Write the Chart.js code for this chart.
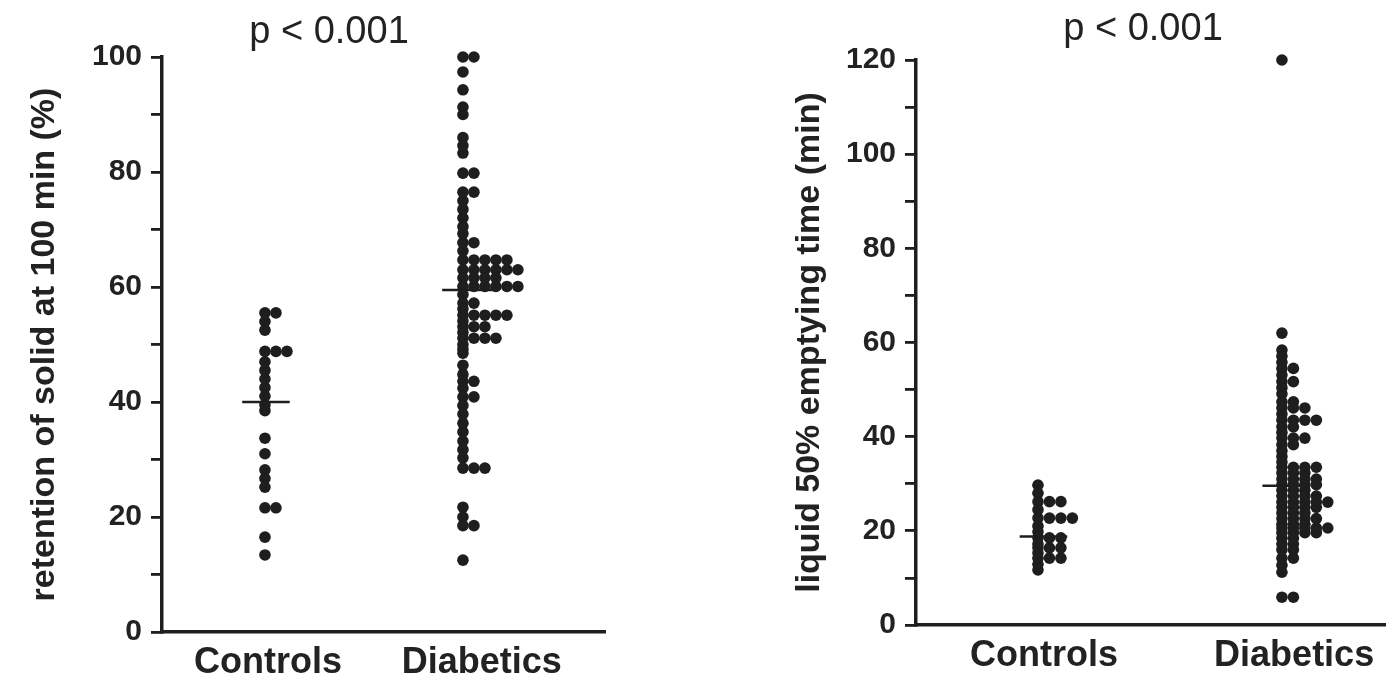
<!DOCTYPE html>
<html><head><meta charset="utf-8">
<script src="https://cdn.jsdelivr.net/npm/chart.js@4.4.1/dist/chart.umd.min.js"></script>
<style>
html,body{margin:0;padding:0;background:#fff;width:1391px;height:681px;overflow:hidden;}
#cl{position:absolute;left:0;top:0;}
#cr{position:absolute;left:695px;top:0;}
.pt{position:absolute;font-family:"Liberation Sans",Arial,sans-serif;font-size:38px;line-height:38px;color:#222;white-space:nowrap;transform:translateX(-50%);}
</style></head><body>
<canvas id="cl" width="695" height="681"></canvas>
<canvas id="cr" width="696" height="681"></canvas>
<div class="pt" style="left:329px;top:11px">p &lt; 0.001</div>
<div class="pt" style="left:1143px;top:8px">p &lt; 0.001</div>
<script>
// ---------- data ----------
const groups = ['Controls', 'Diabetics'];
const pTitle = 'p < 0.001';

const solidTitle = 'retention of solid at 100 min (%)';
const solidTicks = [0, 20, 40, 60, 80, 100];
const solidControls = [55.5, 55.5, 54, 52.5, 48.8, 48.8, 48.8, 47, 45.5, 44, 42.5, 41, 39.5, 38.5,
  33.7, 31, 28.2, 26.7, 25.2, 21.6, 21.6, 16.5, 13.4];
const solidDiabetics = [100, 100, 97.4, 94.3, 91.3, 90, 86, 84.6, 83.3, 79.8, 79.8, 76.5, 76.5, 75, 73.5, 72, 70.5, 69.3, 67.7, 67.7, 66.3,
  64.7, 64.7, 64.7, 64.7, 64.7, 63, 63, 63, 63, 63, 63, 61.6, 61.6, 61.6, 61.6,
  60.1, 60.1, 60.1, 60.1, 60.1, 60.1, 58.7, 57.2, 57.2, 56.2, 55.1, 55.1, 55.1, 55.1, 55.1, 54.1,
  53.1, 53.1, 53.1, 52.1, 51.1, 51.1, 51.1, 51.1, 50, 49.2, 48.5,
  46.4, 44.8, 43.6, 43.6, 42.4, 40.9, 40.9, 39.4, 37.9, 36.3, 34.8, 33.2, 31.7, 30.3, 28.5, 28.5, 28.5,
  21.7, 20, 18.5, 18.5, 12.5];
const solidMeans = [40, 59.5];

const liquidTitle = 'liquid 50% emptying time (min)';
const liquidTicks = [0, 20, 40, 60, 80, 100, 120];
const liquidControls = [29.7, 28, 26.2, 26.2, 26.2, 24.5, 22.7, 22.7, 22.7, 22.7, 21, 19.8, 18.5, 18.5, 18.5,
  17.2, 16.4, 16.4, 16.4, 15.3, 14.2, 14.2, 14.2, 12.9, 11.7];
const liquidDiabetics = [120, 62, 58.4, 57.1, 55.8, 54.5, 54.5, 53.1, 51.7, 51.7, 50.4, 49.1, 47.4, 47.4,
  46.1, 46.1, 46.1, 44.8, 43.5, 43.5, 43.5, 43.5, 42.1, 42.1, 40.9, 39.7, 39.7, 39.7, 38.3, 38.3, 37, 35.8, 34.6,
  33.5, 33.5, 33.5, 33.5, 32.3, 32.3, 32.3, 31, 31, 31, 31, 29.8, 29.8, 29.8, 29.8, 28.6, 28.6, 28.6,
  27.4, 27.4, 27.4, 27.4, 26.1, 26.1, 26.1, 26.1, 26.1, 25, 25, 25, 25, 23.8, 23.8, 23.8,
  22.6, 22.6, 22.6, 22.6, 21.4, 21.4, 21.4, 20.6, 20.6, 20.6, 20.6, 20.6, 19.6, 19.6, 19.6, 19.6,
  18.4, 18.4, 17.2, 17.2, 16, 16, 14.2, 14.2, 12.7, 11.2, 5.9, 5.9];
const liquidMeans = [18.8, 29.6];

// ---------- drawing ----------
const FONT = '"Liberation Sans", Arial, sans-serif';
const INK = '#1e1e1e';
Chart.defaults.font.family = FONT;

function dots(values, base, step) {
  const seen = {};
  return values.map(v => { const k = seen[v] || 0; seen[v] = k + 1; return { x: base + k * step, y: v }; });
}

function makeChart(id, o) {
  const meanSets = o.means.map((m, i) => ({
    type: 'line', data: [{ x: o.cols[i] + o.meanSpan[i][0], y: m }, { x: o.cols[i] + o.meanSpan[i][1], y: m }],
    borderColor: INK, borderWidth: 2.5, pointRadius: 0, clip: false, order: 0
  }));
  const dotSets = o.series.map((vals, i) => ({
    type: 'scatter', data: dots(vals, o.cols[i], o.step), pointRadius: 5.8, pointHoverRadius: 5.8,
    backgroundColor: INK, borderWidth: 0, clip: false, order: 1
  }));
  return new Chart(document.getElementById(id), {
    type: 'scatter',
    data: { datasets: meanSets.concat(dotSets) },
    options: {
      responsive: false, animation: false, devicePixelRatio: 1,
      layout: { padding: o.padding },
      plugins: { legend: { display: false }, tooltip: { enabled: false } },
      scales: {
        x: {
          type: 'linear', min: o.xmin, max: o.xmax,
          afterBuildTicks: ax => { ax.ticks = o.labelPos.map(v => ({ value: v })); },
          afterFit: s => { s.height = o.xHeight; },
          ticks: { callback: (v, i) => groups[i], autoSkip: false, maxRotation: 0,
            font: { size: 36, weight: 'bold' }, color: '#222', padding: 9 },
          grid: { display: true, drawOnChartArea: false, drawTicks: false },
          border: { display: true, color: INK, width: 3.5 }
        },
        y: {
          min: 0, max: o.ymax,
          afterBuildTicks: ax => {
            const t = []; for (let v = 0; v <= o.ymax; v += 10) t.push({ value: v }); ax.ticks = t;
          },
          afterFit: s => { s.width = o.yWidth; },
          ticks: { callback: v => (o.ticks.includes(v) ? String(v) : ''), autoSkip: false,
            font: { size: 30, weight: 'bold' }, color: '#222', padding: 9 },
          grid: { drawOnChartArea: false, drawTicks: true, tickLength: 11, color: INK, lineWidth: 2.8 },
          border: { display: true, color: INK, width: 3.5 },
          title: { display: true, text: o.title, color: '#222', font: { size: 34, weight: 'bold' },
            padding: { top: o.titlePad, bottom: 0 } }
        }
      }
    }
  });
}

makeChart('cl', {
  series: [solidControls, solidDiabetics], means: solidMeans, title: solidTitle, ticks: solidTicks,
  ymax: 100, cols: [1, 3], step: 0.111, xmin: -0.04, xmax: 4.435, labelPos: [1.03, 3.19],
  meanSpan: [[-0.23, 0.25], [-0.21, 0.35]],
  padding: { left: 0, top: 57, right: 90, bottom: 0 }, yWidth: 162, xHeight: 49, titlePad: 24
});
makeChart('cr', {
  series: [liquidControls, liquidDiabetics], means: liquidMeans, title: liquidTitle, ticks: liquidTicks,
  ymax: 120, cols: [1, 3], step: 0.094, xmin: 0, xmax: 3.845, labelPos: [1.05, 3.1],
  meanSpan: [[-0.15, 0.24], [-0.16, 0.17]],
  padding: { left: 0, top: 60, right: 6, bottom: 0 }, yWidth: 221, xHeight: 56, titlePad: 94
});
</script>
</body></html>
